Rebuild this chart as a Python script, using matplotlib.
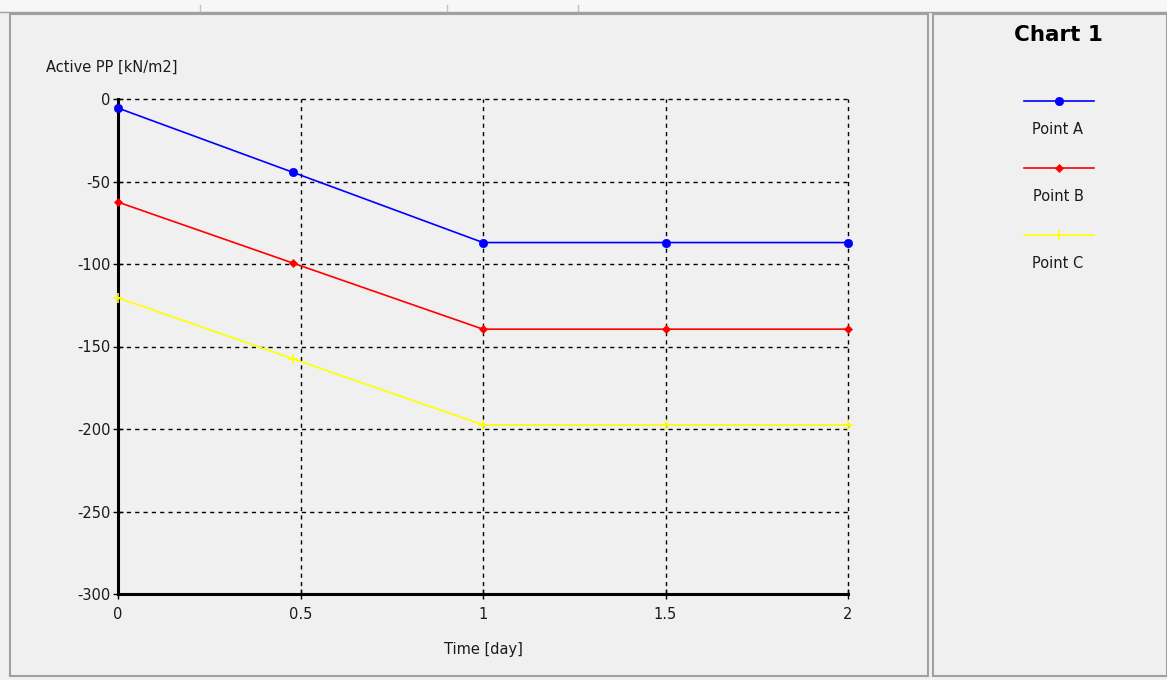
import matplotlib
matplotlib.use("Agg")
import matplotlib.pyplot as plt
from matplotlib.patches import Rectangle
from matplotlib.lines import Line2D

# ---- data ----
time_days = [0.0, 0.48, 1.0, 1.5, 2.0]
point_a = [-5.5, -44.5, -87.0, -87.0, -87.0]
point_b = [-62.5, -99.5, -139.5, -139.5, -139.5]
point_c = [-120.5, -157.5, -197.5, -197.5, -197.5]
series_names = ["Point A", "Point B", "Point C"]
x_ticks = [0, 0.5, 1, 1.5, 2]
x_tick_labels = ["0", "0.5", "1", "1.5", "2"]
y_ticks = [0, -50, -100, -150, -200, -250, -300]
y_tick_labels = ["0", "-50", "-100", "-150", "-200", "-250", "-300"]

W, H = 1167, 680
plt.rcParams['font.family'] = ['DejaVu Sans']
fig = plt.figure(figsize=(W / 100, H / 100), dpi=100, facecolor='#f0f0f0')

def fx(px):
    return px / W

def fy(py):
    return 1 - py / H

FS = 10.5
TXT = '#1a1a1a'

# top strip
fig.patches.append(Rectangle((0, fy(12)), 1, 12 / H, transform=fig.transFigure,
                             facecolor='#f7f7f7', edgecolor='none', zorder=-5))
fig.lines.append(Line2D([0, 1], [fy(12), fy(12)], transform=fig.transFigure, color='#a0a0a0', lw=1, zorder=-4))
for vx in [200, 447, 578]:
    fig.lines.append(Line2D([fx(vx), fx(vx)], [fy(5), fy(11)], transform=fig.transFigure,
                            color='#c0c0c0', lw=1, zorder=-4))

# panel frames
for (x0, x1) in [(10, 928), (933, 1167)]:
    fig.patches.append(Rectangle((fx(x0), fy(676)), (x1 - x0) / W, (676 - 14) / H,
                                 transform=fig.transFigure, facecolor='#f0f0f0',
                                 edgecolor='#a0a0a0', lw=1.5, zorder=-5))

# main axes
ax = fig.add_axes([fx(118), fy(594), (848 - 118) / W, (594 - 99) / H])
ax.set_facecolor('#f0f0f0')
colors = ['#0000ff', '#ff0000', '#ffff00']
markers = ['o', 'D', '+']
msizes = [6, 4.5, 7]
for vals, c, m, ms, name in zip([point_a, point_b, point_c], colors, markers, msizes, series_names):
    ax.plot(time_days, vals, color=c, lw=1.2, marker=m, markersize=ms,
            markeredgewidth=1.2 if m == '+' else 0.5, label=name, zorder=3, clip_on=False)

ax.set_xlim(0, 2)
ax.set_ylim(-300, 0)
ax.set_xticks(x_ticks)
ax.set_xticklabels(x_tick_labels)
ax.set_yticks(y_ticks)
ax.set_yticklabels(y_tick_labels)
ax.grid(True, color='black', linestyle=(0, (3, 3)), lw=1.0)
for gl in ax.get_xgridlines() + ax.get_ygridlines():
    gl.set_clip_on(False)
ax.set_axisbelow(True)
for s in ['top', 'right']:
    ax.spines[s].set_visible(False)
for s in ['left', 'bottom']:
    ax.spines[s].set_linewidth(2.2)
    ax.spines[s].set_color('black')
ax.tick_params(direction='inout', length=7, width=1, labelsize=FS, colors='black', labelcolor=TXT)
ax.tick_params(axis='x', pad=6)
ax.tick_params(axis='y', pad=2)
ax.set_xlabel("Time [day]", fontsize=FS, labelpad=14, color=TXT)
fig.text(fx(46), fy(67), "Active PP [kN/m2]", fontsize=FS, va='center', ha='left', color=TXT)

# title
fig.text(fx(1058), fy(35), "Chart 1", fontsize=15.5, fontweight='bold', ha='center', va='center',
         family='DejaVu Sans', color='black')

# legend drawn manually
lax = fig.add_axes([fx(935), fy(670), (1165 - 935) / W, (670 - 60) / H])
lax.set_xlim(935, 1165)
lax.set_ylim(670, 60)
lax.axis('off')
for i, (name, c, m, ms) in enumerate(zip(series_names, colors, markers, msizes)):
    yy = 101 + i * 67
    lax.plot([1024, 1094], [yy, yy], color=c, lw=1.2)
    lax.plot([1059], [yy], color=c, marker=m, markersize=ms,
             markeredgewidth=1.2 if m == '+' else 0.5)
    lax.text(1058, yy + 29, name, fontsize=FS, ha='center', va='center', color=TXT)

fig.savefig("out.png", dpi=100, facecolor=fig.get_facecolor())
